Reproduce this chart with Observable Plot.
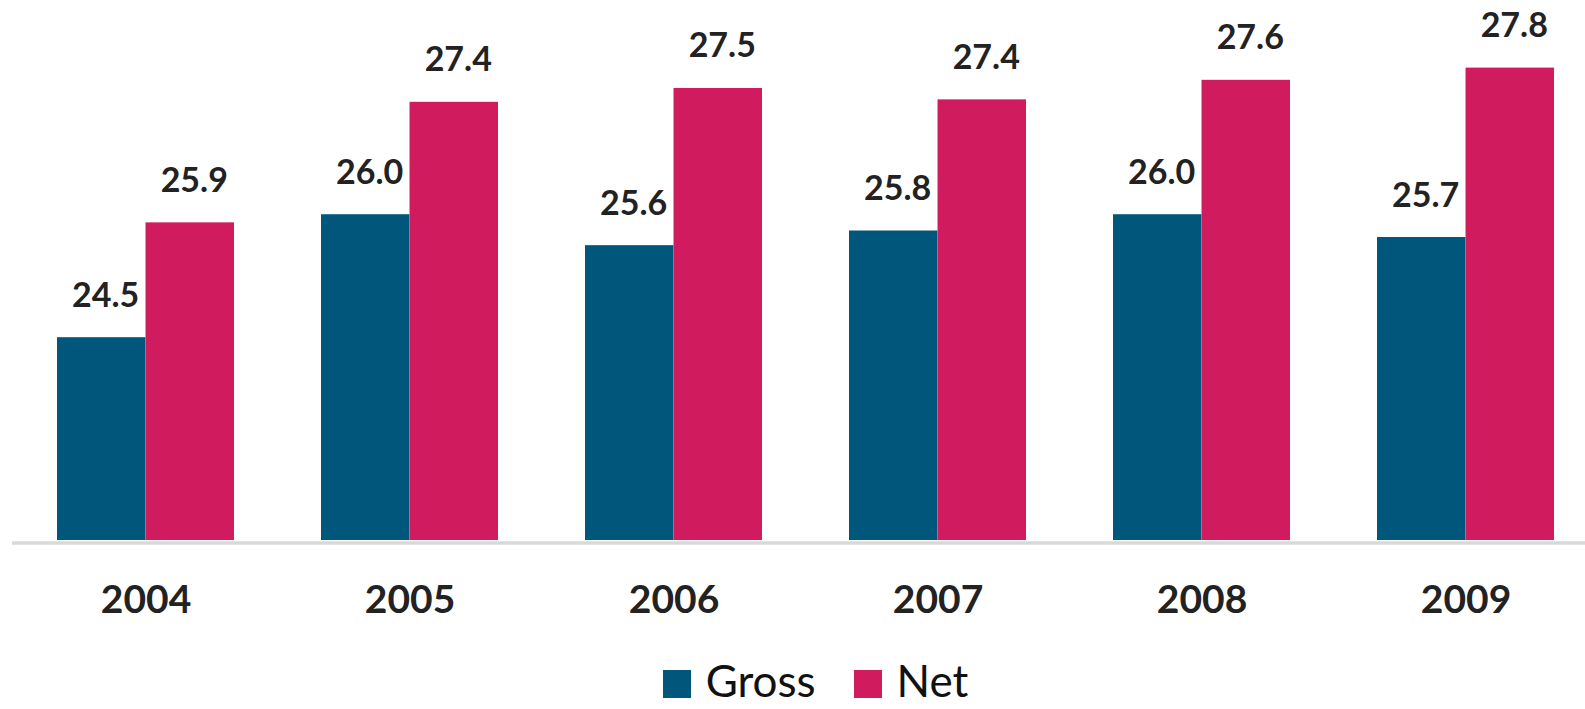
<!DOCTYPE html>
<html>
<head>
<meta charset="utf-8">
<script src="https://cdn.jsdelivr.net/npm/d3@7"></script>
<script src="https://cdn.jsdelivr.net/npm/@observablehq/plot@0.6"></script>
<style>
  html, body { margin: 0; padding: 0; background: #fff; }
  body { width: 1585px; height: 709px; overflow: hidden; font-family: Lato, "Open Sans", sans-serif; }
  #legend { display: flex; justify-content: center; align-items: center; height: 59px; padding-left: 46px; box-sizing: border-box; }
  .item { display: flex; align-items: center; margin: 0 19px; }
  .sw { width: 28px; height: 28px; margin-right: 15px; position: relative; top: 4px; }
  .lab { font-size: 44px; color: #111; line-height: 44px; }
</style>
</head>
<body>
<div id="chart"></div>
<div id="legend"></div>
<script>
const years = ["2004", "2005", "2006", "2007", "2008", "2009"];
const gross = [24.49, 26.0, 25.62, 25.8, 26.0, 25.72];
const net = [25.9, 27.38, 27.55, 27.41, 27.65, 27.8];
const grossLabels = ["24.5", "26.0", "25.6", "25.8", "26.0", "25.7"];
const netLabels = ["25.9", "27.4", "27.5", "27.4", "27.6", "27.8"];
const seriesNames = ["Gross", "Net"];
const seriesColors = ["#01577b", "#d11b5f"];
const yDomain = [22, 28.63];

const W = 1585, H = 650;
const xRange = [28.8, 1582.2];
const xOpts = {type: "band", domain: years, range: xRange, paddingInner: 0.331, paddingOuter: 0.1};
const bw = Plot.scale({x: xOpts}).bandwidth;

const grossRows = years.map((y, i) => ({year: y, value: gross[i], label: grossLabels[i], series: seriesNames[0]}));
const netRows = years.map((y, i) => ({year: y, value: net[i], label: netLabels[i], series: seriesNames[1]}));

const labelOpts = (dx) => ({
  x: "year", y: "value", text: "label",
  dx, dy: -31, lineAnchor: "bottom", fontSize: 34, fontWeight: "bold", fill: "#222"
});

const chart = Plot.plot({
  width: W, height: H,
  marginTop: 0, marginBottom: 110, marginLeft: 12, marginRight: 0,
  style: {fontFamily: "Lato, 'Open Sans', sans-serif", fontSize: "39px", fontWeight: "bold", color: "#222", background: "#fff"},
  x: {...xOpts, axis: "bottom", tickSize: 0, tickPadding: 45, label: null},
  y: {domain: yDomain, axis: null},
  marks: [
    Plot.ruleY([yDomain[0]], {stroke: "#d9d9d9", strokeWidth: 3.5, dy: 2.5}),
    Plot.barY(grossRows, {x: "year", y1: yDomain[0], y2: "value", fill: seriesColors[0], insetRight: bw / 2}),
    Plot.barY(netRows, {x: "year", y1: yDomain[0], y2: "value", fill: seriesColors[1], insetLeft: bw / 2}),
    Plot.text(grossRows, labelOpts(-bw / 4 + 4)),
    Plot.text(netRows, labelOpts(bw / 4 + 4))
  ]
});
document.getElementById("chart").appendChild(chart);

const legend = document.getElementById("legend");
seriesNames.forEach((name, i) => {
  const item = document.createElement("div");
  item.className = "item";
  const sw = document.createElement("div");
  sw.className = "sw";
  sw.style.background = seriesColors[i];
  const lab = document.createElement("span");
  lab.className = "lab";
  lab.textContent = name;
  item.appendChild(sw);
  item.appendChild(lab);
  legend.appendChild(item);
});
</script>
</body>
</html>
